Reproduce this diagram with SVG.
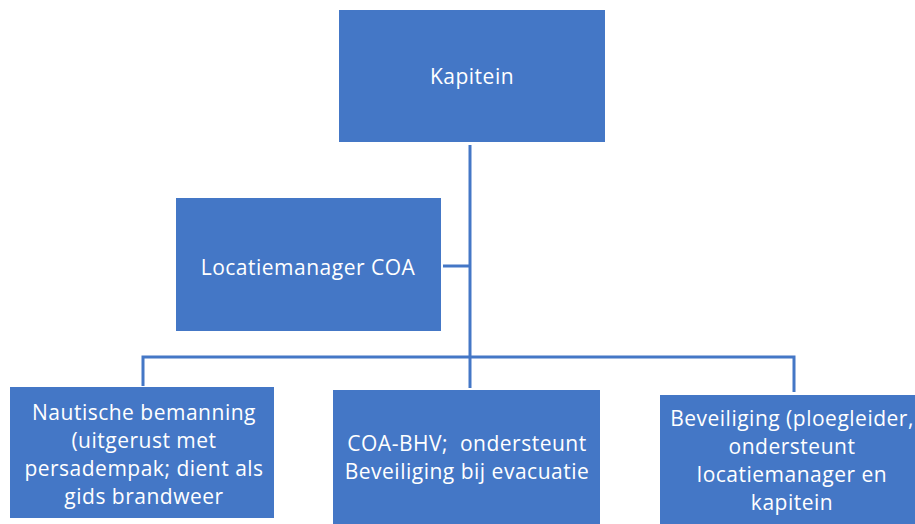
<svg xmlns="http://www.w3.org/2000/svg" width="915" height="524" viewBox="0 0 915 524">
<style>
.box{fill:#4477C6;}
.t{font-family:"Open Sans","Liberation Sans",sans-serif;font-size:21px;fill:#ffffff;text-anchor:middle;letter-spacing:0.5px;}
.c{fill:none;stroke:#4477C6;stroke-width:3;}
</style>
<rect width="915" height="524" fill="#ffffff"/>
<g id="connectors">
<path class="c" d="M470 145 V388"/>
<path class="c" d="M443 266 H470"/>
<path class="c" d="M143 386 V357 H794 V392"/>
</g>
<g id="kapitein">
<rect class="box" x="339" y="10" width="266" height="132"/>
<text class="t" x="472" y="84">Kapitein</text>
</g>
<g id="locatiemanager">
<rect class="box" x="176" y="198" width="265" height="133"/>
<text class="t" x="308" y="275">Locatiemanager COA</text>
</g>
<g id="nautische">
<rect class="box" x="10" y="387" width="264" height="131"/>
<text class="t" x="144" y="420">Nautische bemanning</text>
<text class="t" x="144" y="448">(uitgerust met</text>
<text class="t" x="144" y="476">persadempak; dient als</text>
<text class="t" x="144" y="504">gids brandweer</text>
</g>
<g id="coabhv">
<rect class="box" x="333" y="390" width="267" height="134"/>
<text class="t" x="467" y="451" xml:space="preserve">COA-BHV;  ondersteunt</text>
<text class="t" x="467" y="479">Beveiliging bij evacuatie</text>
</g>
<g id="beveiliging">
<rect class="box" x="660" y="395" width="265" height="129"/>
<text class="t" x="792" y="426">Beveiliging (ploegleider,</text>
<text class="t" x="792" y="454">ondersteunt</text>
<text class="t" x="792" y="482">locatiemanager en</text>
<text class="t" x="792" y="510">kapitein</text>
</g>
</svg>
